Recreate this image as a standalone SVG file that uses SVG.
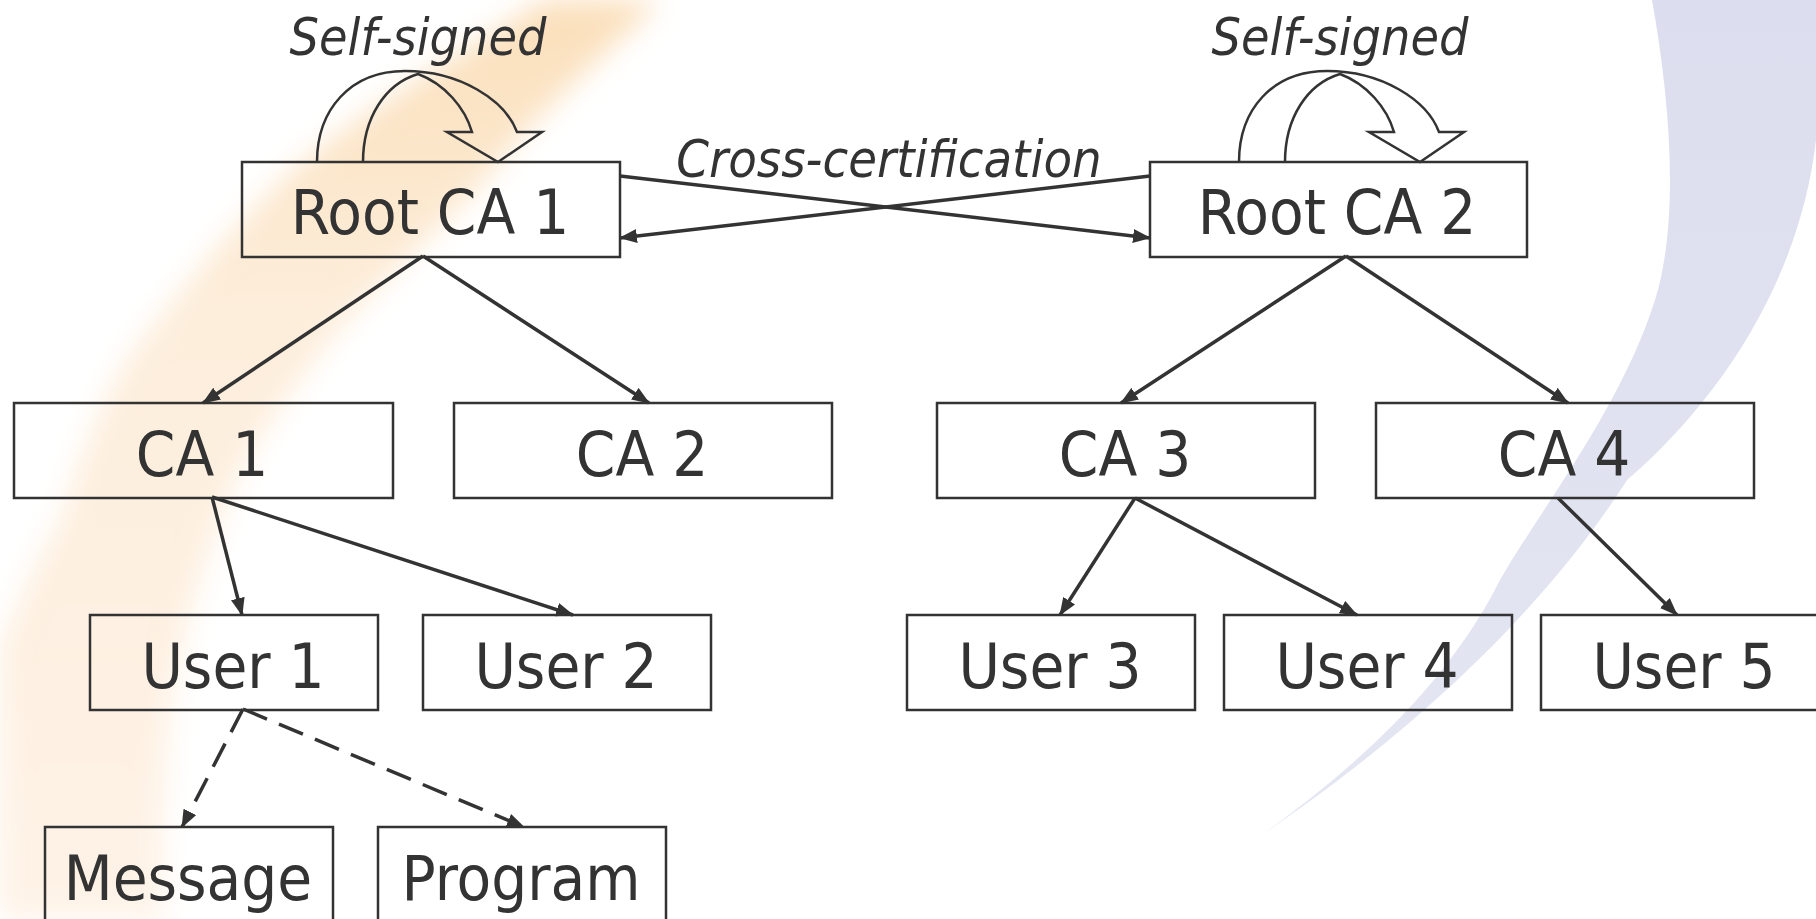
<svg xmlns="http://www.w3.org/2000/svg" width="1816" height="919" viewBox="0 0 1816 919">
<style>
.box{fill:none;stroke:#333;stroke-width:2.5}
.lbl{font-family:'DejaVu Sans Condensed','DejaVu Sans',sans-serif;font-size:63px;fill:#333;text-anchor:middle}
.it{font-family:'DejaVu Sans Condensed','DejaVu Sans',sans-serif;font-style:italic;font-size:52px;fill:#333;text-anchor:middle}
.conn{stroke:#333;stroke-width:3.5;fill:none;marker-end:url(#ah)}
.dash{stroke-dasharray:26 13}
.self{fill:none;stroke:#333;stroke-width:2.5;stroke-linejoin:miter}
</style>
<defs>
<marker id="ah" markerUnits="userSpaceOnUse" markerWidth="18" markerHeight="14" refX="17" refY="7" orient="auto">
<path d="M0,0 L18,7 L0,14 Z" fill="#333"/>
</marker>
<linearGradient id="og" x1="0" y1="0" x2="0" y2="919" gradientUnits="userSpaceOnUse">
<stop offset="0" stop-color="#fbdfba"/>
<stop offset="0.35" stop-color="#fdeedc"/>
<stop offset="1" stop-color="#fef3e7"/>
</linearGradient>
<linearGradient id="lg" x1="0" y1="0" x2="0" y2="832" gradientUnits="userSpaceOnUse">
<stop offset="0" stop-color="#dcdeef"/>
<stop offset="1" stop-color="#e4e6f2"/>
</linearGradient>
<filter id="soft" x="-0.2" y="-0.2" width="1.4" height="1.4"><feGaussianBlur stdDeviation="14"/></filter>
<path id="selfarrow" class="self" d="M317,162 C317,110 350,71 405,71 C460,71 505,100 517,132 L542,132 L498,162 L447,132 L472,132 C465,108 445,84 418,74 C385,84 363,118 363,162"/>
</defs>
<rect width="1816" height="919" fill="#fff"/>
<g id="background">
<path d="M660,0 C600,60 530,120 488,176 C430,240 370,290 321,352 C270,420 235,470 218,527 C195,590 180,650 172,703 C165,770 160,840 165,919 L0,919 L0,645 C20,600 35,560 57,527 C80,460 100,400 132,352 C180,290 230,230 287,176 C360,110 470,50 545,0 Z" fill="url(#og)" filter="url(#soft)"/>
<path d="M1266,832 C1330,785 1440,700 1500,580 C1540,510 1620,410 1655,300 C1680,220 1670,100 1652,0 L1816,0 L1816,140 C1800,280 1720,400 1627,480 C1570,570 1460,700 1266,832 Z" fill="url(#lg)"/>
</g>
<g id="connectors">
<line class="conn" x1="620" y1="176" x2="1150" y2="238"/>
<line class="conn" x1="1150" y1="176" x2="620" y2="238"/>
<line class="conn" x1="423" y1="256" x2="203" y2="403"/>
<line class="conn" x1="423" y1="256" x2="649" y2="403"/>
<line class="conn" x1="1346" y1="256" x2="1121" y2="403"/>
<line class="conn" x1="1346" y1="256" x2="1568" y2="403"/>
<line class="conn" x1="212" y1="497" x2="242" y2="615"/>
<line class="conn" x1="212" y1="497" x2="573" y2="615"/>
<line class="conn" x1="1135" y1="498" x2="1060" y2="615"/>
<line class="conn" x1="1135" y1="498" x2="1357" y2="615"/>
<line class="conn" x1="1558" y1="498" x2="1677" y2="615"/>
<line class="conn dash" x1="243" y1="709" x2="182" y2="827"/>
<line class="conn dash" x1="243" y1="709" x2="524" y2="827"/>
<use id="self-signed-1" href="#selfarrow"/>
<use id="self-signed-2" href="#selfarrow" transform="translate(922,0)"/>
<text class="it" x="418" y="55" textLength="257" lengthAdjust="spacingAndGlyphs">Self-signed</text>
<text class="it" x="1340" y="55" textLength="257" lengthAdjust="spacingAndGlyphs">Self-signed</text>
<text class="it" x="889" y="177">Cross-certification</text>
</g>
<g id="root-ca-1"><rect class="box" x="242" y="162" width="378" height="95"/><text class="lbl" x="430" y="234">Root CA 1</text></g>
<g id="root-ca-2"><rect class="box" x="1150" y="162" width="377" height="95"/><text class="lbl" x="1337" y="234">Root CA 2</text></g>
<g id="ca-1"><rect class="box" x="14" y="403" width="379" height="95"/><text class="lbl" x="202" y="476">CA 1</text></g>
<g id="ca-2"><rect class="box" x="454" y="403" width="378" height="95"/><text class="lbl" x="642" y="476">CA 2</text></g>
<g id="ca-3"><rect class="box" x="937" y="403" width="378" height="95"/><text class="lbl" x="1125" y="476">CA 3</text></g>
<g id="ca-4"><rect class="box" x="1376" y="403" width="378" height="95"/><text class="lbl" x="1564" y="476">CA 4</text></g>
<g id="user-1"><rect class="box" x="90" y="615" width="288" height="95"/><text class="lbl" x="233" y="688">User 1</text></g>
<g id="user-2"><rect class="box" x="423" y="615" width="288" height="95"/><text class="lbl" x="566" y="688">User 2</text></g>
<g id="user-3"><rect class="box" x="907" y="615" width="288" height="95"/><text class="lbl" x="1050" y="688">User 3</text></g>
<g id="user-4"><rect class="box" x="1224" y="615" width="288" height="95"/><text class="lbl" x="1367" y="688">User 4</text></g>
<g id="user-5"><rect class="box" x="1541" y="615" width="288" height="95"/><text class="lbl" x="1684" y="688">User 5</text></g>
<g id="message"><rect class="box" x="45" y="827" width="288" height="95"/><text class="lbl" x="188" y="900">Message</text></g>
<g id="program"><rect class="box" x="378" y="827" width="288" height="95"/><text class="lbl" x="521" y="900">Program</text></g>
</svg>
